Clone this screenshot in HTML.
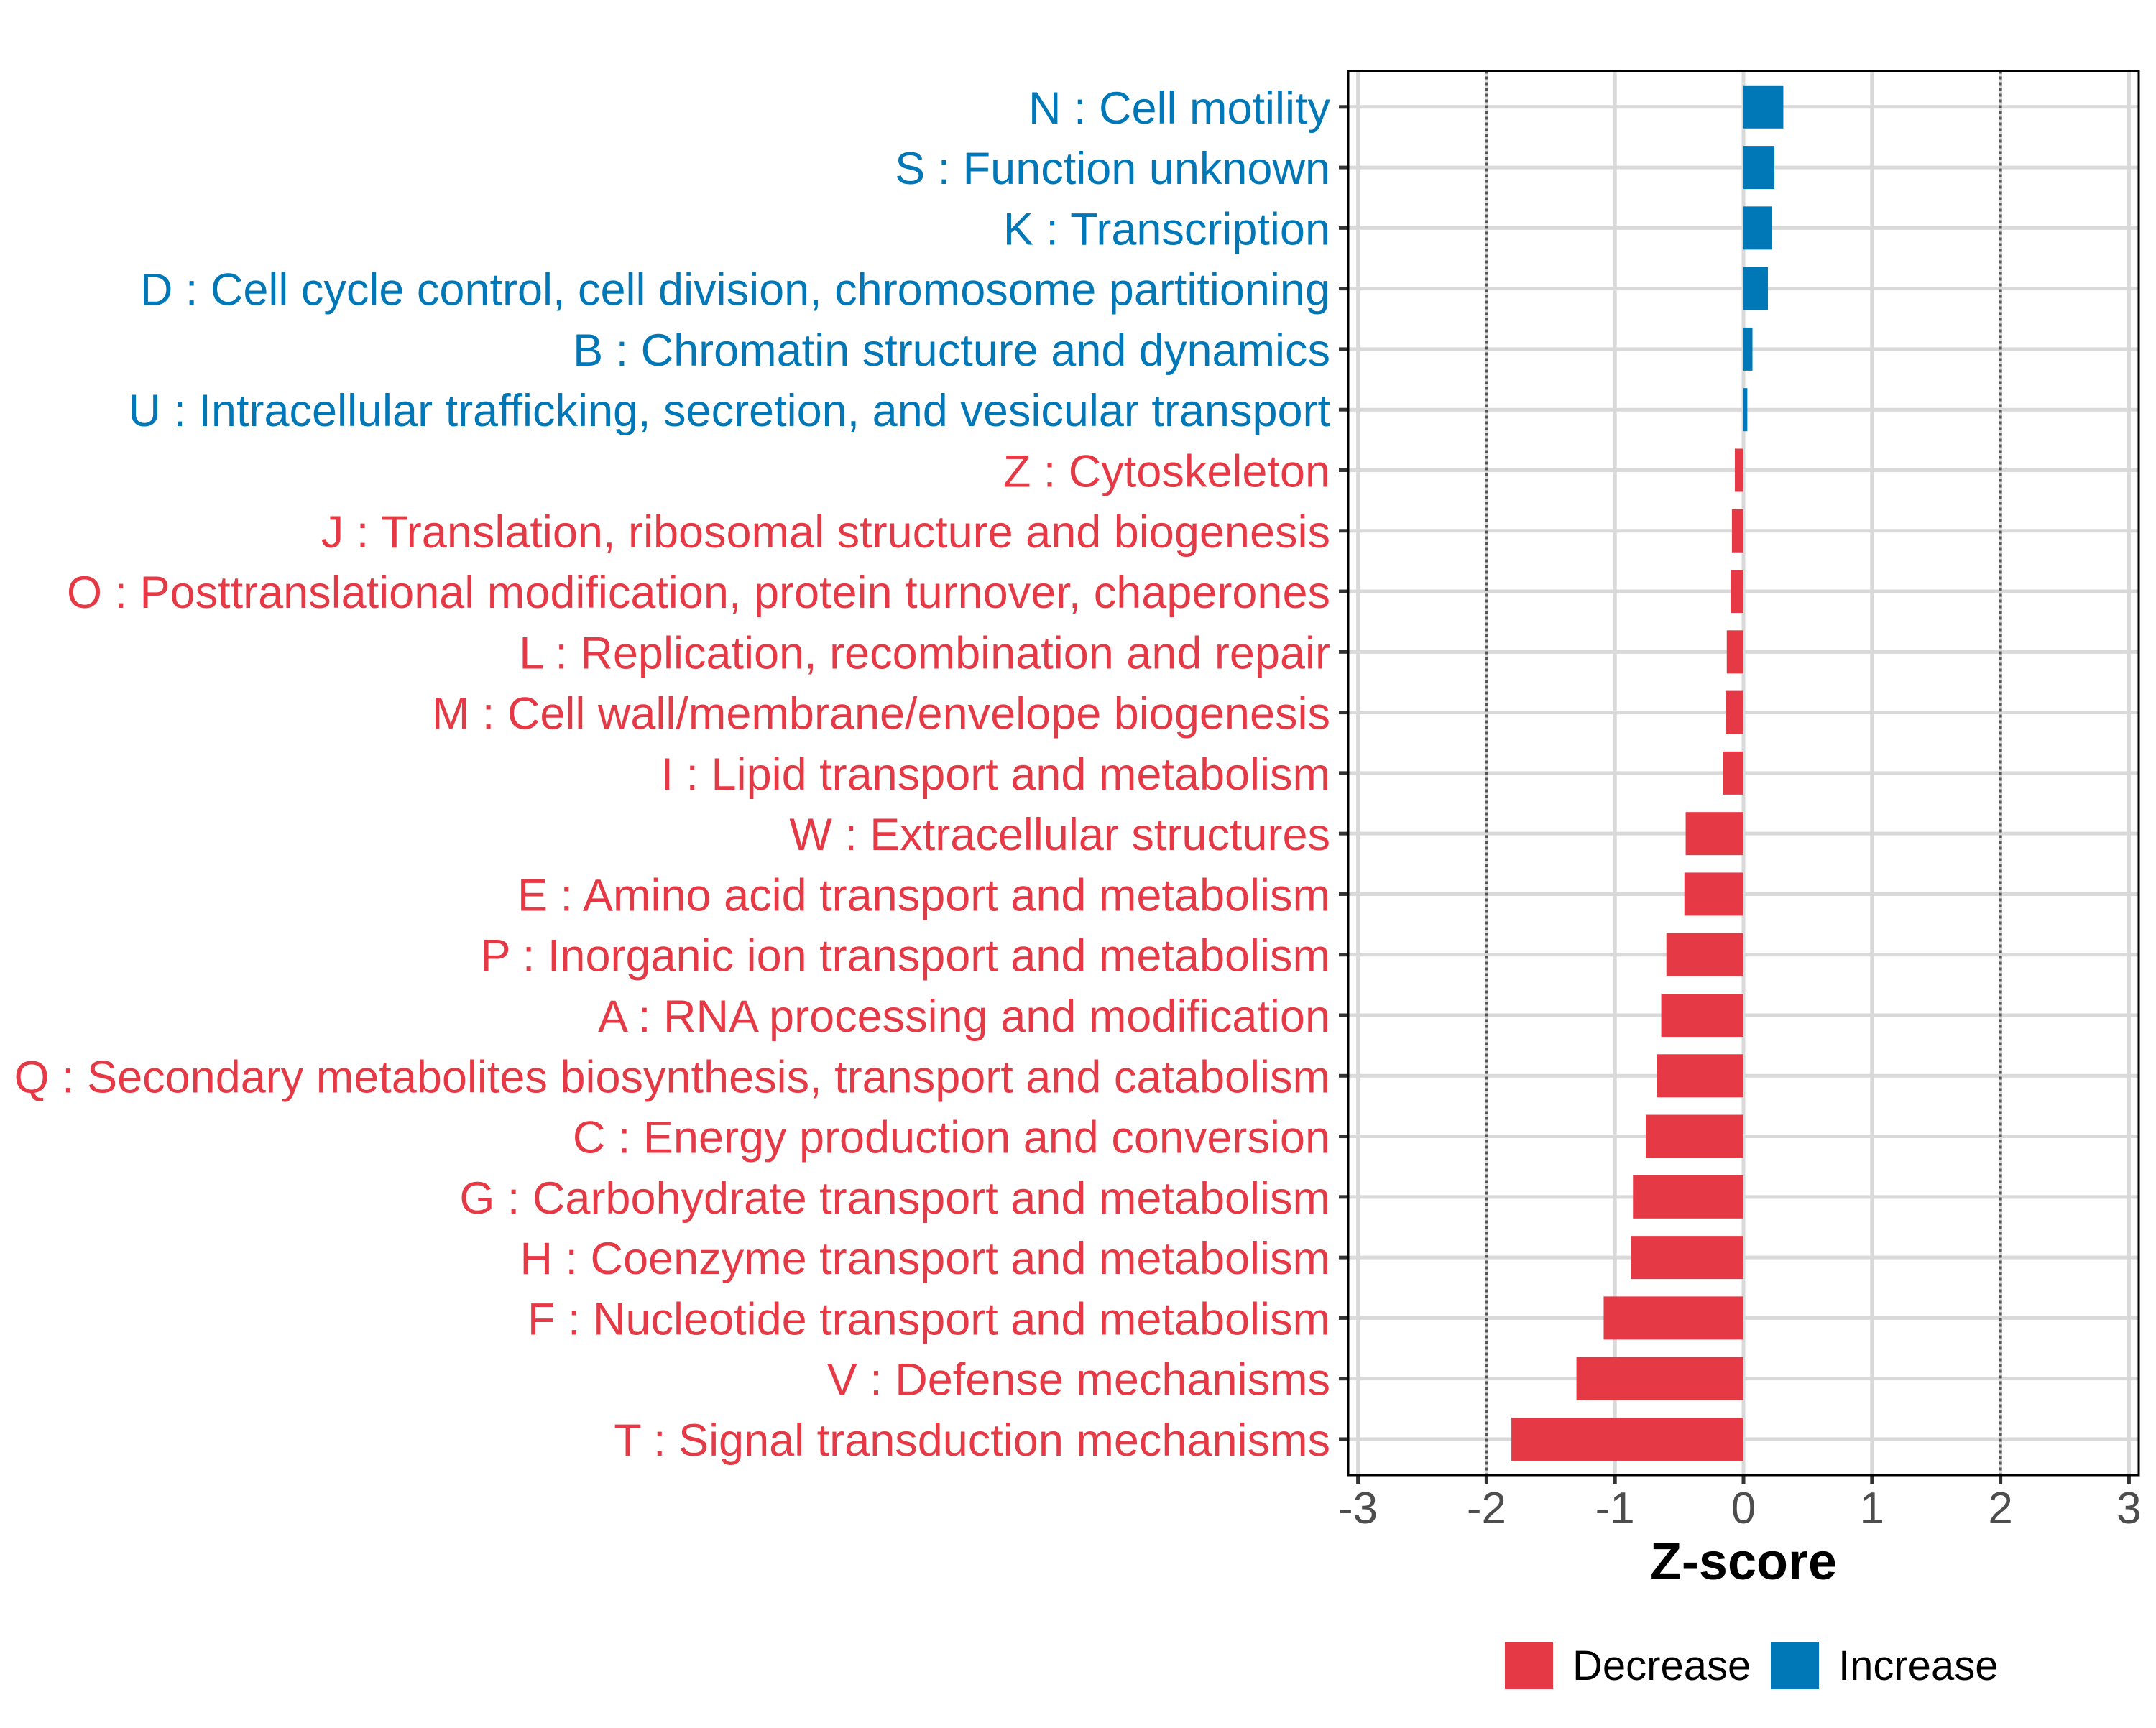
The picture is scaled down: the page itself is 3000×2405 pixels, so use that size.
<!DOCTYPE html>
<html><head><meta charset="utf-8"><style>
html,body{margin:0;padding:0;background:#fff;}
svg text{font-family:"Liberation Sans",sans-serif;}
</style></head><body>
<svg id="chart" width="3000" height="2400" viewBox="0 0 3000 2400">
<rect width="3000" height="2400" fill="#fff"/>
<g id="grid"></g>
<g id="bars"></g>
<g id="ylabels"></g>
<g id="xaxis"></g>
<rect x="1876" y="98.5" width="1100" height="1954.5" fill="none" stroke="#000" stroke-width="3"/>
<text x="2426" y="2198" font-size="72" font-weight="bold" text-anchor="middle" fill="#000">Z-score</text>
<g>
<rect x="2094" y="2285" width="67" height="66" fill="#E63946"/>
<text x="2188" y="2338" font-size="58" fill="#000">Decrease</text>
<rect x="2464" y="2285" width="67" height="66" fill="#0077B6"/>
<text x="2558" y="2338" font-size="58" fill="#000">Increase</text>
</g>
</svg>
<script>
const categories = ["N : Cell motility","S : Function unknown","K : Transcription","D : Cell cycle control, cell division, chromosome partitioning","B : Chromatin structure and dynamics","U : Intracellular trafficking, secretion, and vesicular transport","Z : Cytoskeleton","J : Translation, ribosomal structure and biogenesis","O : Posttranslational modification, protein turnover, chaperones","L : Replication, recombination and repair","M : Cell wall/membrane/envelope biogenesis","I : Lipid transport and metabolism","W : Extracellular structures","E : Amino acid transport and metabolism","P : Inorganic ion transport and metabolism","A : RNA processing and modification","Q : Secondary metabolites biosynthesis, transport and catabolism","C : Energy production and conversion","G : Carbohydrate transport and metabolism","H : Coenzyme transport and metabolism","F : Nucleotide transport and metabolism","V : Defense mechanisms","T : Signal transduction mechanisms"];
const zscores = [0.31,0.24,0.22,0.19,0.07,0.03,-0.067,-0.09,-0.1,-0.13,-0.14,-0.16,-0.45,-0.46,-0.6,-0.64,-0.675,-0.76,-0.86,-0.878,-1.088,-1.30,-1.806];
const xTicks = [-3,-2,-1,0,1,2,3];
const xTickLabels = ["-3","-2","-1","0","1","2","3"];
const dottedLines = [-2,2];

const NS="http://www.w3.org/2000/svg";
const X0=2426, UNIT=178.8, Y0=148.8, STEP=84.28, BARH=60;
const PT=98.5, PB=2053, PL=1876, PR=2976;
function xs(v){return X0+v*UNIT;}
function ys(i){return Y0+i*STEP;}
function mk(tag,attrs,parent){const e=document.createElementNS(NS,tag);for(const k in attrs)e.setAttribute(k,attrs[k]);parent.appendChild(e);return e;}
const grid=document.getElementById('grid'),bars=document.getElementById('bars'),yl=document.getElementById('ylabels'),xa=document.getElementById('xaxis');
xTicks.forEach((t,i)=>{
  const g=mk('line',{x1:xs(t),x2:xs(t),y1:PT,y2:PB,stroke:'#d9d9d9','stroke-width':5},grid);
  
  
  const tk=mk('line',{x1:xs(t),x2:xs(t),y1:PB,y2:PB+13,stroke:'#333','stroke-width':5},xa);
  
  
  const tl=mk('text',{x:xs(t),y:2120,'font-size':62,'text-anchor':'middle',fill:'#4d4d4d'},xa);
  tl.textContent=xTickLabels[i];
  
  
});
categories.forEach((c,i)=>{
  const g=mk('line',{x1:PL,x2:PR,y1:ys(i),y2:ys(i),stroke:'#d9d9d9','stroke-width':5},grid);
  
  
});
dottedLines.forEach(v=>{
  const d=mk('line',{x1:xs(v),x2:xs(v),y1:PT,y2:PB,stroke:'#555','stroke-width':4,'stroke-dasharray':'4 4'},grid);
  
  
});
categories.forEach((c,i)=>{
  const v=zscores[i];
  const col=v>=0?'#0077B6':'#E63946';
  const b=mk('rect',{x:Math.min(xs(0),xs(v)),y:ys(i)-BARH/2,width:Math.abs(xs(v)-xs(0)),height:BARH,fill:col},bars);
  
  
  const tk=mk('line',{x1:1863,x2:PL,y1:ys(i),y2:ys(i),stroke:'#333','stroke-width':5},yl);
  
  
  const t=mk('text',{x:1851,y:ys(i)+23,'font-size':63,'text-anchor':'end',fill:col},yl);
  t.textContent=c;
  
  
});
</script>
</body></html>
